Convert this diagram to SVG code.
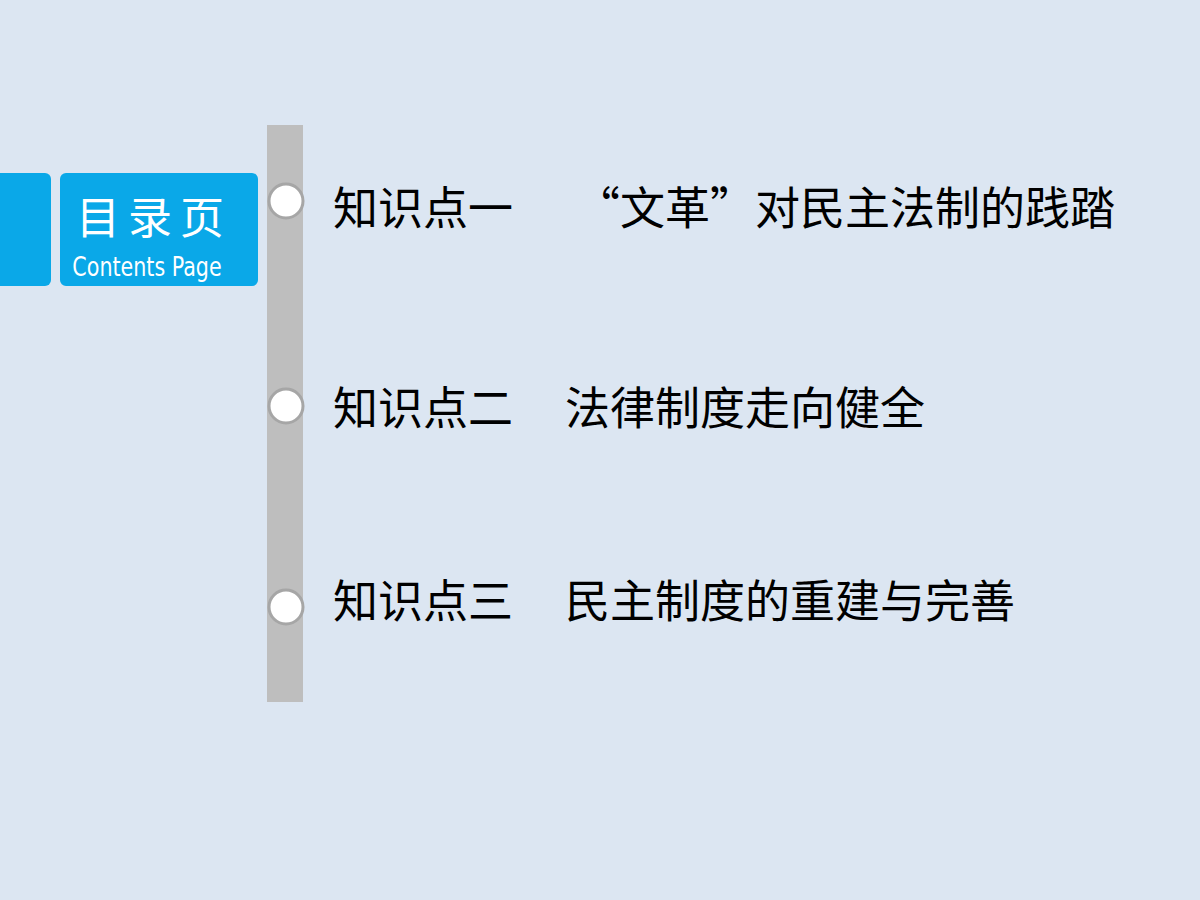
<svg xmlns="http://www.w3.org/2000/svg" width="1200" height="900" viewBox="0 0 1200 900">
<style>
.t{font-family:"Noto Sans CJK SC","Noto Sans",sans-serif;font-size:45px;fill:#000}
.dot{fill:#fff;stroke:#A6A6A6;stroke-width:3}
</style>
<rect width="1200" height="900" fill="#DCE6F2"/>
<g id="header">
<rect x="-6" y="173" width="57" height="113" rx="6" fill="#0AA8E8"/>
<rect x="60" y="173" width="198" height="113" rx="6" fill="#0AA8E8"/>
<text x="154" y="234" text-anchor="middle" font-family="Noto Sans CJK SC,sans-serif" font-size="44" fill="#fff" letter-spacing="8">目录页</text>
<text x="147" y="276" text-anchor="middle" font-family="Liberation Sans Narrow,DejaVu Sans Condensed,sans-serif" font-size="27" fill="#fff" transform="translate(147 0) scale(0.85 1) translate(-147 0)">Contents Page</text>
</g>
<g id="connectors">
<rect x="267" y="125" width="36" height="577" fill="#BEBEBE"/>
</g>
<g id="item1"><circle class="dot" cx="286" cy="201" r="17"/>
<text class="t" x="333" y="225">知识点一</text><text class="t" x="575" y="225">“文革”对民主法制的践踏</text></g>
<g id="item2"><circle class="dot" cx="286" cy="406" r="17"/>
<text class="t" x="333" y="425">知识点二</text><text class="t" x="565" y="425">法律制度走向健全</text></g>
<g id="item3"><circle class="dot" cx="286" cy="607" r="17"/>
<text class="t" x="333" y="618">知识点三</text><text class="t" x="565" y="618">民主制度的重建与完善</text></g>
</svg>
